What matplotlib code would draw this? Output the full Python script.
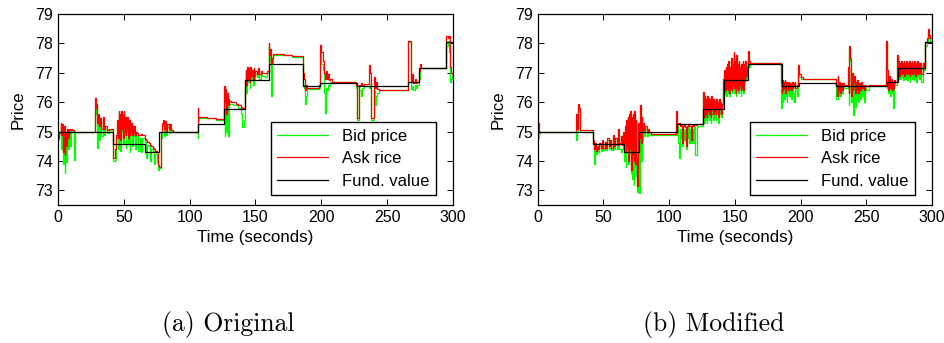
import matplotlib
matplotlib.use("Agg")
import matplotlib.pyplot as plt
import numpy as np

# Fundamental value (same in both runs): step start times and levels
fund_time = [0, 42, 66, 77, 106, 126, 142, 160, 186, 199, 227, 266, 274, 295, 300]
fund_value = [75.0, 74.57, 74.3, 75.0, 75.25, 75.78, 76.75, 77.3, 76.55, 76.65,
              76.55, 76.7, 77.17, 78.05, 78.05]

# (a) Original: times at which the quotes change, ask and bid after the change
time_a = [0.0, 1.0, 2.0, 2.6, 3.2, 3.8, 4.4, 5.0, 5.6, 6.2,
          6.8, 7.6, 8.4, 9.2, 10.0, 11.0, 12.5, 13.2, 28.0, 28.6,
          29.2, 29.8, 30.5, 31.2, 32.0, 33.0, 34.0, 35.0, 36.0, 37.5,
          39.0, 42.0, 43.0, 44.0, 45.0, 45.5, 46.0, 46.5, 47.0, 47.5,
          48.0, 48.5, 49.0, 49.5, 50.0, 50.5, 51.0, 51.5, 52.0, 52.5,
          53.0, 53.5, 54.0, 54.5, 55.0, 55.5, 56.0, 56.5, 57.0, 57.5,
          58.0, 58.5, 59.0, 60.0, 61.0, 62.0, 63.0, 64.0, 66.0, 67.0,
          67.8, 69.0, 70.0, 70.8, 72.0, 73.0, 74.0, 75.0, 76.0, 77.0,
          78.0, 79.0, 79.8, 80.6, 81.4, 82.2, 83.0, 84.0, 85.0, 86.0,
          87.0, 106.0, 106.6, 107.5, 113.0, 120.0, 126.0, 126.6, 127.2, 127.8,
          128.4, 129.0, 129.6, 130.2, 131.5, 133.0, 135.0, 137.0, 139.0, 140.0,
          141.0, 142.0, 142.6, 143.2, 143.8, 144.4, 145.0, 145.6, 146.2, 146.8,
          147.4, 148.0, 148.6, 149.2, 150.0, 151.0, 152.0, 153.0, 154.0, 155.0,
          157.0, 159.0, 160.0, 160.6, 161.2, 161.8, 162.4, 163.0, 172.0, 178.0,
          186.0, 186.8, 187.6, 188.4, 189.2, 198.0, 199.0, 200.0, 201.0, 201.8,
          202.6, 203.4, 204.2, 205.0, 206.0, 207.0, 208.0, 226.0, 227.0, 229.0,
          230.0, 231.0, 232.5, 236.0, 237.0, 238.0, 240.0, 240.8, 241.6, 242.4,
          243.5, 266.0, 266.8, 268.0, 269.0, 270.0, 271.0, 272.0, 273.0, 274.0,
          275.0, 276.0, 295.0, 296.0, 297.0, 298.0, 298.8, 299.5, 300.0]
ask_a = [74.80, 75.00, 75.30, 74.90, 75.25, 74.30, 75.20, 74.20, 75.00, 74.50,
         75.10, 74.80, 75.10, 75.05, 75.10, 75.05, 75.00, 75.00, 76.15, 75.80,
         75.95, 75.30, 75.60, 75.20, 75.45, 75.10, 75.50, 75.10, 75.20, 75.05,
         75.10, 74.10, 74.40, 74.90, 75.40, 74.80, 75.70, 75.00, 75.60, 74.70,
         75.70, 75.10, 75.55, 74.80, 75.70, 75.00, 75.50, 74.90, 75.50, 75.10,
         75.50, 74.80, 75.40, 74.90, 75.30, 75.00, 75.30, 74.90, 75.20, 74.95,
         75.20, 74.90, 75.00, 74.95, 74.90, 74.90, 74.92, 74.90, 74.75, 74.70,
         74.65, 74.60, 74.55, 74.50, 74.45, 74.40, 74.35, 74.30, 73.85, 73.80,
         75.00, 75.30, 75.40, 75.10, 75.35, 75.00, 75.25, 75.10, 75.25, 75.05,
         75.00, 75.80, 75.50, 75.50, 75.47, 75.42, 76.55, 76.00, 76.45, 75.60,
         76.30, 75.90, 76.10, 76.05, 76.00, 76.00, 75.95, 75.90, 75.85, 75.80,
         75.80, 76.60, 77.10, 76.60, 77.20, 76.80, 77.15, 76.70, 77.20, 76.90,
         77.10, 76.80, 77.15, 76.90, 77.05, 76.95, 77.15, 76.95, 77.05, 77.00,
         77.00, 77.05, 78.00, 77.60, 77.80, 77.30, 77.50, 77.65, 77.62, 77.57,
         77.00, 76.80, 76.40, 76.60, 76.50, 76.60, 77.95, 77.70, 77.40, 77.00,
         76.80, 77.05, 76.80, 76.95, 76.75, 76.80, 76.70, 76.60, 75.45, 76.60,
         76.65, 76.60, 76.62, 77.25, 77.00, 75.45, 76.85, 76.50, 76.70, 76.45,
         76.42, 78.10, 78.10, 76.70, 76.95, 76.65, 76.80, 76.65, 76.70, 77.05,
         77.30, 77.17, 78.25, 78.20, 78.25, 77.20, 77.00, 76.95, 76.95]
bid_a = [74.75, 74.95, 75.20, 74.40, 75.10, 73.90, 74.90, 73.60, 74.80, 73.95,
         75.00, 74.40, 75.00, 74.50, 75.05, 75.00, 74.05, 75.00, 75.60, 75.70,
         75.85, 74.45, 75.50, 74.70, 75.35, 74.85, 75.40, 74.90, 75.10, 74.95,
         75.05, 74.00, 74.05, 74.80, 75.30, 74.40, 75.60, 74.90, 75.50, 74.35,
         75.60, 75.00, 75.45, 74.60, 75.60, 74.90, 75.40, 74.45, 75.40, 75.00,
         75.40, 74.60, 75.30, 74.30, 75.20, 74.90, 75.20, 74.50, 75.10, 74.85,
         75.10, 74.40, 74.90, 74.85, 74.35, 74.80, 74.30, 74.80, 74.65, 74.10,
         74.55, 74.50, 74.00, 74.40, 74.35, 73.90, 74.25, 73.95, 73.70, 73.75,
         74.80, 75.20, 75.30, 74.85, 75.25, 74.90, 75.15, 74.95, 75.15, 75.00,
         75.00, 74.80, 75.40, 75.48, 75.45, 75.40, 76.40, 74.85, 76.30, 75.00,
         76.20, 74.85, 76.00, 75.95, 75.95, 75.90, 75.90, 75.80, 75.60, 75.15,
         75.40, 76.40, 77.00, 76.30, 77.10, 76.70, 77.05, 76.50, 77.10, 76.80,
         77.00, 76.60, 77.05, 76.80, 76.95, 76.85, 77.05, 76.80, 76.95, 76.90,
         76.85, 77.00, 77.90, 77.40, 77.60, 76.20, 77.30, 77.62, 77.60, 77.55,
         76.60, 76.50, 75.95, 76.20, 76.45, 76.50, 77.75, 77.30, 77.10, 76.30,
         75.65, 76.50, 76.40, 76.60, 76.55, 76.70, 76.68, 76.50, 75.40, 76.40,
         76.20, 76.50, 76.55, 76.50, 76.60, 75.40, 76.40, 75.90, 76.20, 76.30,
         76.40, 78.05, 78.05, 76.45, 76.55, 76.40, 76.60, 76.50, 76.60, 76.80,
         77.15, 77.15, 77.90, 78.10, 77.70, 76.70, 76.80, 76.90, 76.90]

# (b) Modified
time_b = [0.0, 0.8, 1.5, 29.0, 29.8, 30.5, 31.3, 32.2, 42.0, 42.8,
          43.6, 44.4, 45.2, 46.0, 47.0, 48.0, 49.0, 50.0, 51.0, 52.0,
          53.0, 54.0, 55.0, 56.0, 57.0, 58.0, 59.0, 60.0, 61.0, 62.0,
          63.0, 64.0, 65.0, 66.0, 66.5, 67.0, 67.5, 68.0, 68.5, 69.0,
          69.5, 70.0, 70.5, 71.0, 71.5, 72.0, 72.5, 73.0, 73.5, 74.0,
          74.5, 75.0, 75.6, 76.3, 77.0, 77.8, 78.4, 79.0, 79.6, 80.2,
          81.0, 82.0, 83.0, 84.0, 85.0, 86.0, 105.0, 105.8, 106.6, 107.4,
          108.2, 109.0, 110.0, 110.6, 111.4, 112.2, 113.0, 113.6, 114.4, 115.2,
          116.0, 117.0, 117.6, 118.4, 119.2, 120.0, 121.0, 122.0, 126.0, 126.5,
          127.0, 127.5, 128.0, 128.5, 129.0, 129.5, 130.0, 130.5, 131.0, 131.5,
          132.0, 132.5, 133.0, 133.5, 134.0, 134.5, 135.0, 135.5, 136.0, 136.5,
          137.0, 137.5, 138.0, 138.5, 139.0, 139.5, 140.0, 141.0, 141.5, 142.0,
          142.5, 143.0, 143.5, 144.0, 144.5, 145.0, 145.5, 146.0, 146.5, 147.0,
          147.5, 148.0, 148.5, 149.0, 149.5, 150.0, 150.5, 151.0, 151.5, 152.0,
          152.5, 153.0, 153.5, 154.0, 154.5, 155.0, 155.5, 156.0, 156.5, 157.0,
          157.5, 158.0, 158.5, 159.0, 160.0, 160.8, 161.6, 185.0, 185.5, 186.0,
          186.5, 187.0, 187.5, 188.0, 188.5, 189.0, 189.5, 190.0, 190.5, 191.0,
          191.5, 192.0, 193.0, 193.5, 194.0, 194.5, 195.0, 195.5, 196.0, 197.0,
          198.0, 199.0, 200.0, 201.5, 227.0, 227.6, 228.2, 228.8, 229.4, 230.0,
          230.6, 231.2, 232.0, 233.0, 234.0, 236.0, 236.6, 237.2, 237.8, 238.4,
          239.0, 239.6, 240.2, 240.8, 241.4, 242.0, 242.6, 243.2, 244.0, 244.6,
          245.2, 246.0, 246.8, 247.6, 248.4, 249.2, 250.0, 252.0, 265.0, 265.6,
          266.2, 266.8, 267.4, 268.0, 268.6, 269.2, 270.0, 270.6, 271.2, 272.0,
          273.0, 273.5, 274.0, 274.5, 275.0, 275.5, 276.0, 276.5, 277.0, 277.5,
          278.0, 278.5, 279.0, 279.5, 280.0, 280.5, 281.0, 281.5, 282.0, 282.5,
          283.0, 283.5, 284.0, 284.5, 285.0, 285.5, 286.0, 286.5, 287.0, 287.5,
          288.0, 288.5, 289.0, 289.5, 290.0, 291.0, 292.0, 293.0, 294.0, 295.0,
          296.0, 297.0, 297.8, 298.6, 300.0]
ask_b = [75.30, 75.00, 75.00, 75.60, 75.10, 75.95, 75.80, 75.05, 74.70, 74.40,
         74.60, 74.35, 74.50, 74.40, 74.60, 74.45, 74.70, 74.45, 74.65, 74.45,
         74.80, 74.50, 74.70, 74.45, 74.90, 74.50, 74.80, 74.55, 75.10, 74.60,
         74.85, 74.55, 75.00, 74.60, 75.20, 74.30, 75.40, 74.50, 75.50, 74.00,
         75.60, 74.40, 75.70, 73.70, 75.50, 74.20, 75.60, 74.00, 75.70, 73.90,
         75.40, 74.10, 73.15, 75.30, 74.80, 75.90, 74.60, 75.50, 75.00, 75.30,
         75.05, 75.20, 75.00, 75.10, 75.00, 74.92, 75.70, 75.30, 75.25, 75.30,
         75.20, 75.25, 74.60, 75.20, 75.25, 75.15, 74.50, 75.20, 75.25, 75.20,
         75.20, 74.70, 75.22, 75.20, 75.22, 75.22, 75.25, 75.25, 76.35, 75.50,
         76.20, 75.60, 76.10, 75.50, 76.20, 75.70, 76.15, 75.60, 76.10, 75.50,
         76.20, 75.80, 76.10, 75.60, 76.10, 75.70, 76.05, 75.60, 76.10, 75.80,
         76.00, 75.50, 76.10, 75.80, 76.00, 75.60, 75.95, 76.80, 76.30, 77.10,
         76.40, 77.20, 76.50, 77.30, 76.40, 77.40, 76.30, 77.20, 76.50, 77.50,
         76.40, 77.30, 76.60, 77.70, 76.50, 77.40, 76.30, 77.60, 76.50, 77.30,
         76.40, 77.40, 76.60, 77.20, 76.40, 77.30, 76.50, 77.40, 76.40, 77.30,
         76.80, 77.40, 76.90, 77.20, 77.75, 77.40, 77.35, 76.70, 76.30, 76.75,
         76.40, 76.70, 76.50, 76.75, 76.30, 76.70, 76.50, 76.70, 76.40, 76.70,
         76.50, 76.65, 76.40, 76.70, 76.50, 76.65, 76.55, 76.70, 76.50, 76.60,
         77.25, 76.95, 76.85, 76.80, 76.60, 76.20, 76.90, 76.40, 76.70, 76.30,
         76.65, 76.40, 76.65, 76.55, 76.60, 77.20, 76.30, 77.90, 77.50, 76.20,
         77.00, 76.40, 76.70, 76.90, 76.30, 76.70, 76.40, 76.75, 76.30, 76.65,
         76.40, 76.70, 76.50, 76.60, 76.40, 76.60, 76.55, 76.58, 78.10, 77.10,
         76.75, 76.40, 76.90, 76.50, 76.80, 76.40, 76.70, 76.50, 76.75, 76.70,
         77.40, 77.60, 76.95, 77.40, 76.90, 77.35, 77.00, 77.40, 76.95, 77.35,
         77.00, 77.40, 76.90, 77.35, 77.00, 77.40, 76.95, 77.35, 77.00, 77.40,
         76.90, 77.35, 77.00, 77.40, 76.95, 77.35, 77.00, 77.40, 76.90, 77.35,
         77.00, 77.40, 76.95, 77.35, 77.00, 77.35, 76.95, 77.35, 77.20, 78.05,
         78.20, 78.50, 78.30, 78.20, 78.20]
bid_b = [74.80, 74.95, 75.00, 74.70, 75.00, 75.85, 75.70, 75.00, 74.60, 73.90,
         74.50, 74.25, 74.40, 74.30, 74.50, 74.35, 74.60, 74.38, 74.55, 74.38,
         74.70, 74.40, 74.60, 74.38, 74.80, 74.40, 74.70, 74.40, 75.00, 74.40,
         74.30, 74.40, 74.90, 74.00, 75.10, 73.80, 75.30, 74.40, 75.40, 73.90,
         75.50, 74.30, 75.60, 73.60, 75.40, 73.40, 75.50, 73.20, 75.60, 73.80,
         75.30, 73.50, 72.95, 75.20, 72.90, 75.80, 74.00, 75.40, 74.70, 75.20,
         74.85, 75.10, 74.85, 75.00, 74.90, 74.90, 74.90, 75.20, 74.60, 74.10,
         75.10, 74.80, 74.50, 75.10, 74.70, 75.05, 74.40, 74.80, 75.15, 74.60,
         75.10, 74.60, 75.10, 74.60, 75.15, 74.20, 75.15, 75.20, 76.25, 75.30,
         76.10, 75.40, 76.00, 75.30, 76.10, 75.50, 76.05, 75.40, 76.00, 75.30,
         76.10, 75.60, 76.00, 75.40, 76.00, 75.50, 75.95, 75.40, 76.00, 75.60,
         75.90, 75.30, 76.00, 75.60, 75.90, 75.50, 75.85, 76.70, 76.20, 77.00,
         76.30, 77.10, 76.20, 77.20, 76.30, 77.30, 76.20, 77.10, 76.40, 77.40,
         76.30, 77.20, 76.40, 77.60, 76.30, 77.30, 76.20, 77.50, 76.40, 77.20,
         76.30, 77.30, 76.50, 77.10, 76.20, 77.20, 76.40, 77.30, 76.30, 77.20,
         76.70, 77.30, 76.80, 77.10, 77.65, 77.20, 77.33, 75.80, 76.20, 76.65,
         76.00, 76.60, 76.10, 76.65, 76.20, 76.60, 76.00, 76.60, 76.30, 76.60,
         76.20, 76.55, 76.10, 76.60, 76.40, 76.30, 76.00, 76.60, 76.40, 76.20,
         77.15, 76.85, 76.80, 76.78, 76.10, 76.10, 76.80, 76.20, 76.60, 76.20,
         76.55, 76.30, 76.55, 76.50, 76.50, 77.10, 75.90, 77.80, 77.40, 76.00,
         76.90, 76.30, 75.55, 76.80, 75.85, 76.60, 76.10, 76.65, 76.00, 76.55,
         76.10, 76.60, 76.20, 76.50, 76.00, 76.50, 76.40, 76.55, 78.00, 76.50,
         76.65, 76.30, 76.80, 76.20, 76.70, 76.30, 76.60, 75.80, 76.65, 76.60,
         77.30, 77.50, 76.85, 77.30, 76.80, 77.25, 76.80, 77.30, 76.85, 77.25,
         76.75, 77.30, 76.80, 77.25, 76.80, 77.30, 76.75, 77.25, 76.85, 77.30,
         76.70, 77.25, 76.85, 77.30, 76.80, 77.25, 76.75, 77.30, 76.80, 77.25,
         76.70, 77.30, 76.85, 77.25, 76.80, 77.25, 76.70, 77.25, 77.10, 77.90,
         78.10, 78.40, 78.15, 78.10, 78.10]

captions = ["(a) Original", "(b) Modified"]
legend_labels = ["Bid price", "Ask rice", "Fund. value"]

plt.rcParams['font.family'] = ['Liberation Sans', 'DejaVu Sans']

fig = plt.figure(figsize=(9.44, 3.43), dpi=100)
ax_a = fig.add_axes([0.0614, 0.402, 0.4184, 0.557])
ax_b = fig.add_axes([0.5696, 0.402, 0.4177, 0.557])

panels = [(ax_a, time_a, ask_a, bid_a), (ax_b, time_b, ask_b, bid_b)]
for ax, t, ask, bid in panels:
    ax.plot(t, bid, drawstyle='steps-post', color='#00ff00', linewidth=0.9,
            label=legend_labels[0])
    ax.plot(t, ask, drawstyle='steps-post', color='red', linewidth=0.9,
            label=legend_labels[1])
    ax.plot(fund_time, fund_value, drawstyle='steps-post', color='black',
            linewidth=0.9, label=legend_labels[2])

    ax.set_xlim(0, 300)
    ax.set_ylim(72.5, 79)
    ax.set_xticks(np.arange(0, 301, 50))
    ax.set_yticks(np.arange(73, 80, 1))
    ax.tick_params(direction='in', top=True, right=True, length=4,
                   labelsize=11.5, width=0.7)
    for s in ax.spines.values():
        s.set_linewidth(0.9)
    ax.set_xlabel('Time (seconds)', fontsize=12.2, labelpad=3.5)
    ax.set_ylabel('Price', fontsize=12.2, labelpad=7)

    leg = ax.legend(loc='lower right', bbox_to_anchor=(0.956, 0.052),
                    borderaxespad=0, fontsize=12, handlelength=3.05,
                    labelspacing=0.45, fancybox=False, framealpha=1,
                    edgecolor='black', borderpad=0.4)
    leg.get_frame().set_linewidth(1.0)

# sub-captions in a serif face like the original document
fig.text(0.2415, 0.055, captions[0], ha='center', va='center',
         fontsize=18.5, family='cmr10')
fig.text(0.756, 0.055, captions[1], ha='center', va='center',
         fontsize=18.5, family='cmr10')

fig.savefig('out.png', dpi=100)
